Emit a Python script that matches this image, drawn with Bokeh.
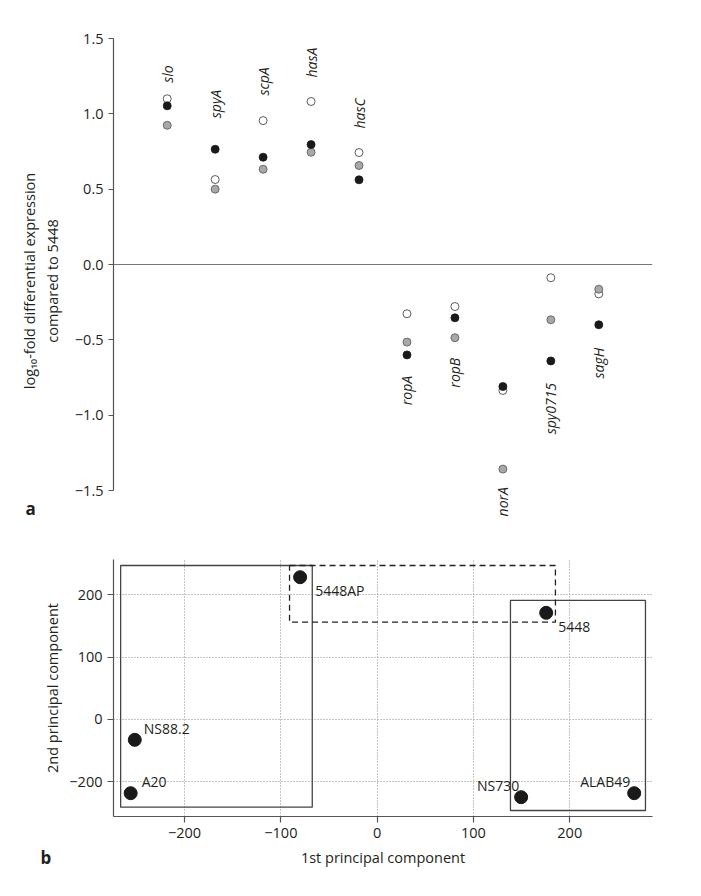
import numpy as np
from bokeh.plotting import figure
from bokeh.models import (FixedTicker, Span, Title, ColumnDataSource, Range1d,
                          CustomJSTickFormatter)
from bokeh.layouts import column
from bokeh.embed import file_html
from bokeh.resources import INLINE
from bokeh.core.properties import value

FONT = "Open Sans"
TXT = "#231f20"

# ---------------- panel a data ----------------
genes = ["slo", "spyA", "scpA", "hasA", "hasC", "ropA", "ropB", "norA", "spy0715", "sagH"]
open_vals = [1.10, 0.564, 0.955, 1.082, 0.743, -0.327, -0.279, -0.836, -0.088, -0.195]
grey_vals = [0.924, 0.50, 0.632, 0.745, 0.657, -0.515, -0.486, -1.358, -0.367, -0.164]
black_vals = [1.053, 0.765, 0.712, 0.796, 0.562, -0.60, -0.354, -0.81, -0.64, -0.40]
yticks_a = [-1.5, -1.0, -0.5, 0.0, 0.5, 1.0, 1.5]
# gap (screen px) between the outermost point and its gene label
label_gap = [16, 31, 25, 24, 24, 21, 20, 18, 22, 23]

# ---------------- panel b data ----------------
strains = ["5448AP", "5448", "NS88.2", "A20", "NS730", "ALAB49"]
pc1 = [-80.0, 175.5, -251.7, -256.0, 149.5, 266.9]
pc2 = [228.2, 171.1, -32.6, -118.2, -124.6, -118.2]
xticks_b = [-200, -100, 0, 100, 200]
yticks_b = [-100, 0, 100, 200]
# label placement (screen px) and alignment
strain_dx = [15, 12, 9, 11, -2, -4]
strain_dy = [13, 14, -11.5, -12, -12, -12]
strain_align = ["left", "left", "left", "left", "right", "right"]
# group boxes
box_left = [-266.4, 138.4]
box_right = [-67.4, 278.6]
box_bottom = [-140.7, -146.0]
box_top = [247.0, 190.9]
dbox_left = [-91.0]
dbox_right = [185.1]
dbox_bottom = [156.0]
dbox_top = [247.0]


def style_axis(ax):
    ax.axis_line_color = "#555555"
    ax.axis_line_width = 1.2
    ax.major_tick_line_color = "#555555"
    ax.major_tick_line_width = 1.2
    ax.major_tick_out = 5
    ax.major_tick_in = 0
    ax.minor_tick_line_color = None
    ax.major_label_text_font = FONT
    ax.major_label_text_font_size = "14.5px"
    ax.major_label_text_color = TXT
    ax.axis_label_text_font = FONT
    ax.axis_label_text_font_size = "14.5px"
    ax.axis_label_text_font_style = "normal"
    ax.axis_label_text_color = TXT


def panel_letter(txt, offset, standoff):
    return Title(text=txt, align="left", vertical_align="top", offset=offset,
                 standoff=standoff, text_font=FONT, text_font_size="17px",
                 text_font_style="bold", text_color=TXT)


W = 700

# ================= panel a =================
x_pos = np.arange(1, len(genes) + 1)
p1 = figure(width=W, height=538, output_backend="svg", toolbar_location=None, tools="",
            x_range=Range1d(-0.12, 11.12), y_range=Range1d(-1.719, 1.5),
            x_axis_location=None, min_border_left=113, min_border_right=W - 675,
            min_border_top=38, min_border_bottom=15, outline_line_color=None)
p1.xgrid.visible = False
p1.ygrid.visible = False
style_axis(p1.yaxis[0])
p1.yaxis.bounds = (-1.5, 1.5)
p1.yaxis.ticker = FixedTicker(ticks=yticks_a)
p1.yaxis.formatter = CustomJSTickFormatter(code="return tick.toFixed(1).replace('-', '\u2212');")
p1.yaxis.axis_label = "log\u2081\u2080-fold differential expression\ncompared to 5448"
p1.yaxis.axis_label_standoff = 10

p1.add_layout(Span(location=0, dimension="width", line_color="#777777", line_width=1.2))

p1.scatter(x_pos, open_vals, size=8, fill_color="white", line_color="#333333", line_width=0.8)
p1.scatter(x_pos, grey_vals, size=8, fill_color="#a8a8a8", line_color="#555555", line_width=0.8)
p1.scatter(x_pos, black_vals, size=8, fill_color="#1a1a1a", line_color="#1a1a1a", line_width=0.8)

allv = np.array([open_vals, grey_vals, black_vals])
is_pos = np.array(black_vals) > 0
anchor = np.where(is_pos, allv.max(axis=0), allv.min(axis=0))
gap = np.array(label_gap, dtype=float)
g = np.array(genes)

src_up = ColumnDataSource(dict(x=x_pos[is_pos], y=anchor[is_pos], t=g[is_pos], off=-gap[is_pos]))
src_dn = ColumnDataSource(dict(x=x_pos[~is_pos], y=anchor[~is_pos], t=g[~is_pos], off=gap[~is_pos]))
for src, align in ((src_up, "left"), (src_dn, "right")):
    p1.text(x="x", y="y", text="t", y_offset="off", source=src, angle=np.pi / 2,
            text_align=align, text_baseline="middle", text_font=value(FONT),
            text_font_style="italic", text_font_size="14px", text_color=TXT)

p1.add_layout(panel_letter("a", -88, -53), "below")

# ================= panel b =================
H2 = 358
p2 = figure(width=W, height=H2, output_backend="svg", toolbar_location=None, tools="",
            x_range=Range1d(-273.8, 285.9), y_range=Range1d(-155.6, 256.6),
            min_border_left=113, min_border_right=W - 652, min_border_top=21,
            min_border_bottom=H2 - 21 - 257, outline_line_color=None)
style_axis(p2.xaxis[0])
style_axis(p2.yaxis[0])
p2.xaxis.ticker = FixedTicker(ticks=xticks_b)
p2.yaxis.ticker = FixedTicker(ticks=yticks_b)
p2.xaxis.formatter = CustomJSTickFormatter(code="return tick.toString().replace('-', '\u2212');")
# the reference labels the -100 gridline as "-200"; reproduced as printed
p2.yaxis.formatter = CustomJSTickFormatter(
    code="if (tick == -100) { return '\u2212200'; } return tick.toString().replace('-', '\u2212');")
p2.xaxis.axis_label = "1st principal component"
p2.yaxis.axis_label = "2nd principal component"
p2.xaxis.axis_label_standoff = 7
p2.yaxis.axis_label_standoff = 4
p2.xaxis.major_tick_out = 6
p2.yaxis.major_tick_out = 6
for grid, tk in ((p2.xgrid, xticks_b), (p2.ygrid, yticks_b)):
    grid.ticker = FixedTicker(ticks=tk)
    grid.grid_line_color = "#8a8a8a"
    grid.grid_line_dash = "1 2"
    grid.grid_line_width = 1

p2.quad(left=box_left, right=box_right, bottom=box_bottom, top=box_top,
        fill_color=None, line_color="#444444", line_width=1.3)
p2.quad(left=dbox_left, right=dbox_right, bottom=dbox_bottom, top=dbox_top,
        fill_color=None, line_color="#222222", line_width=1.3, line_dash="6 4")

p2.scatter(pc1, pc2, size=13, fill_color="#1a1a1a", line_color="#1a1a1a")

al = np.array(strain_align)
for align in ("left", "right"):
    m = al == align
    src = ColumnDataSource(dict(x=np.array(pc1)[m], y=np.array(pc2)[m],
                                t=np.array(strains)[m],
                                dx=np.array(strain_dx, dtype=float)[m],
                                dy=np.array(strain_dy, dtype=float)[m]))
    p2.text(x="x", y="y", text="t", x_offset="dx", y_offset="dy", source=src,
            text_align=align, text_baseline="middle", text_font=value(FONT),
            text_font_size="14px", text_color=TXT)

p2.add_layout(panel_letter("b", -73, -47), "below")

layout = column(p1, p2)
open("out.html", "w").write(file_html(layout, INLINE))
